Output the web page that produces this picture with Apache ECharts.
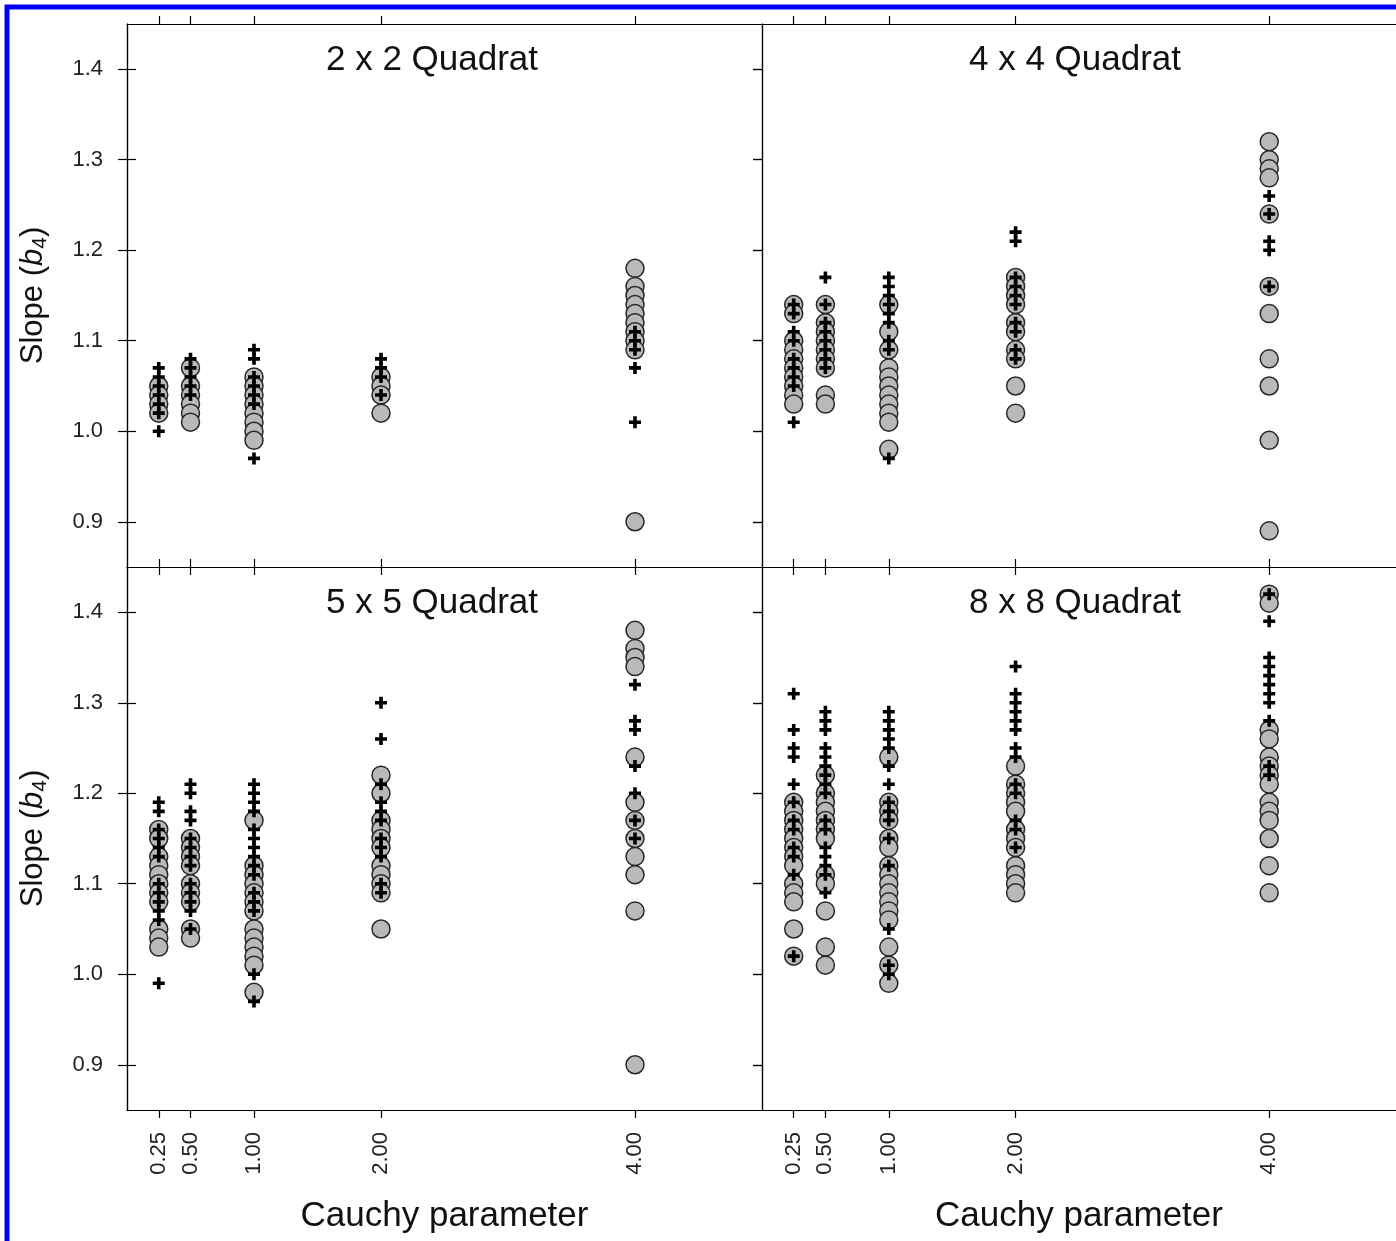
<!DOCTYPE html>
<html>
<head>
<meta charset="utf-8">
<script src="https://cdn.jsdelivr.net/npm/echarts@6/dist/echarts.min.js"></script>
<style>
html,body{margin:0;padding:0;background:#fff;}
#chart{width:1396px;height:1241px;}
</style>
</head>
<body>
<div id="chart"></div>
<script>
// ---- data ----
const cauchy = [0.25, 0.5, 1, 2, 4];
const yTicks = [0.9, 1.0, 1.1, 1.2, 1.3, 1.4];
const panelTitles = ['2 x 2 Quadrat', '4 x 4 Quadrat', '5 x 5 Quadrat', '8 x 8 Quadrat'];

// circles (one list per Cauchy parameter)
const q2Circles = [
  [1.05, 1.04, 1.03, 1.02],
  [1.07, 1.05, 1.04, 1.03, 1.02, 1.01],
  [1.06, 1.05, 1.04, 1.03, 1.02, 1.01, 1.00, 0.99],
  [1.06, 1.05, 1.04, 1.02],
  [1.18, 1.16, 1.15, 1.14, 1.13, 1.12, 1.11, 1.10, 1.09, 0.90]
];
const q2Plus = [
  [1.07, 1.06, 1.05, 1.04, 1.03, 1.02, 1.00],
  [1.08, 1.07, 1.06, 1.05, 1.04],
  [1.09, 1.08, 1.06, 1.05, 1.04, 1.03, 0.97],
  [1.08, 1.07, 1.06, 1.04],
  [1.11, 1.10, 1.09, 1.07, 1.01]
];
const q4Circles = [
  [1.14, 1.13, 1.10, 1.09, 1.08, 1.07, 1.06, 1.05, 1.04, 1.03],
  [1.14, 1.12, 1.11, 1.10, 1.09, 1.08, 1.07, 1.04, 1.03],
  [1.14, 1.11, 1.09, 1.07, 1.06, 1.05, 1.04, 1.03, 1.02, 1.01, 0.98],
  [1.17, 1.16, 1.15, 1.14, 1.12, 1.11, 1.09, 1.08, 1.05, 1.02],
  [1.32, 1.30, 1.29, 1.28, 1.24, 1.16, 1.13, 1.08, 1.05, 0.99, 0.89]
];
const q4Plus = [
  [1.14, 1.13, 1.11, 1.10, 1.08, 1.07, 1.06, 1.05, 1.01],
  [1.17, 1.14, 1.12, 1.11, 1.10, 1.09, 1.08, 1.07],
  [1.17, 1.16, 1.15, 1.14, 1.13, 1.12, 1.10, 1.09, 0.97],
  [1.22, 1.21, 1.17, 1.16, 1.15, 1.14, 1.12, 1.11, 1.09, 1.08],
  [1.26, 1.24, 1.21, 1.20, 1.16]
];
const q5Circles = [
  [1.16, 1.15, 1.13, 1.12, 1.11, 1.10, 1.09, 1.08, 1.05, 1.04, 1.03],
  [1.15, 1.14, 1.13, 1.12, 1.10, 1.09, 1.08, 1.05, 1.04],
  [1.17, 1.12, 1.11, 1.10, 1.09, 1.08, 1.07, 1.05, 1.04, 1.03, 1.02, 1.01, 0.98],
  [1.22, 1.20, 1.17, 1.16, 1.15, 1.14, 1.12, 1.11, 1.10, 1.09, 1.05],
  [1.38, 1.36, 1.35, 1.34, 1.24, 1.19, 1.17, 1.15, 1.13, 1.11, 1.07, 0.90]
];
const q5Plus = [
  [1.19, 1.18, 1.16, 1.15, 1.14, 1.13, 1.10, 1.09, 1.08, 1.07, 1.06, 0.99],
  [1.21, 1.20, 1.18, 1.17, 1.15, 1.14, 1.13, 1.12, 1.10, 1.09, 1.08, 1.07, 1.05],
  [1.21, 1.20, 1.19, 1.18, 1.16, 1.15, 1.14, 1.13, 1.12, 1.11, 1.09, 1.08, 1.07, 1.00, 0.97],
  [1.30, 1.26, 1.21, 1.19, 1.18, 1.17, 1.15, 1.14, 1.13, 1.10, 1.09],
  [1.32, 1.28, 1.27, 1.23, 1.20, 1.17, 1.15]
];
const q8Circles = [
  [1.19, 1.18, 1.17, 1.16, 1.15, 1.14, 1.13, 1.12, 1.10, 1.09, 1.08, 1.05, 1.02],
  [1.22, 1.20, 1.19, 1.18, 1.17, 1.16, 1.15, 1.11, 1.10, 1.07, 1.03, 1.01],
  [1.24, 1.19, 1.18, 1.17, 1.15, 1.14, 1.12, 1.11, 1.10, 1.09, 1.08, 1.07, 1.06, 1.03, 1.01, 0.99],
  [1.23, 1.21, 1.20, 1.19, 1.18, 1.16, 1.15, 1.14, 1.12, 1.11, 1.10, 1.09],
  [1.42, 1.41, 1.27, 1.26, 1.24, 1.23, 1.22, 1.21, 1.19, 1.18, 1.17, 1.15, 1.12, 1.09]
];
const q8Plus = [
  [1.31, 1.27, 1.25, 1.24, 1.21, 1.19, 1.17, 1.16, 1.14, 1.13, 1.11, 1.02],
  [1.29, 1.28, 1.27, 1.25, 1.24, 1.23, 1.22, 1.21, 1.20, 1.17, 1.16, 1.14, 1.13, 1.12, 1.11, 1.09],
  [1.29, 1.28, 1.27, 1.26, 1.25, 1.23, 1.21, 1.19, 1.18, 1.17, 1.15, 1.12, 1.05, 1.01, 1.00],
  [1.34, 1.31, 1.30, 1.29, 1.28, 1.27, 1.25, 1.24, 1.21, 1.20, 1.17, 1.16, 1.14],
  [1.42, 1.39, 1.35, 1.34, 1.33, 1.32, 1.31, 1.30, 1.28, 1.23, 1.22]
];

const circleSets = [q2Circles, q4Circles, q5Circles, q8Circles];
const plusSets = [q2Plus, q4Plus, q5Plus, q8Plus];

// ---- chart ----
const FONT = 'Liberation Sans, Arial, sans-serif';
const toPairs = lists => cauchy.flatMap((c, i) => lists[i].map(v => [c, v]));
const PLUS = 'path://M4.2,0h3.6v4.2h4.2v3.6h-4.2v4.2h-3.6v-4.2h-4.2v-3.6h4.2z';

const grids = [
  {left: 127, top: 24, width: 635, height: 543},
  {left: 762, top: 24, width: 635, height: 543},
  {left: 127, top: 567, width: 635, height: 543},
  {left: 762, top: 567, width: 635, height: 543}
];

const axLine = {show: true, lineStyle: {color: '#000', width: 1.2}};
const xAxes = [], yAxes = [], series = [];
grids.forEach((g, i) => {
  const isBottom = i >= 2, isLeft = i % 2 === 0;
  xAxes.push({
    type: 'value', gridIndex: i, position: 'bottom', min: 0, max: 5,
    axisLine: axLine, splitLine: {show: false},
    axisTick: {show: true, inside: false, length: 8, customValues: cauchy, lineStyle: {color: '#000', width: 1.2}},
    axisLabel: {show: isBottom, customValues: cauchy, rotate: 90, margin: 22,
      formatter: v => v.toFixed(2), fontSize: 22, color: '#222', fontFamily: FONT},
    name: isBottom ? 'Cauchy parameter' : '', nameLocation: 'middle', nameGap: 89,
    nameTextStyle: {fontSize: 35, color: '#111', fontFamily: FONT}
  });
  xAxes.push({
    type: 'value', gridIndex: i, position: 'top', min: 0, max: 5,
    axisLine: axLine, splitLine: {show: false},
    axisTick: {show: true, inside: false, length: 8, customValues: cauchy, lineStyle: {color: '#000', width: 1.2}},
    axisLabel: {show: false}
  });
  yAxes.push({
    type: 'value', gridIndex: i, position: 'left', min: 0.85, max: 1.45,
    axisLine: axLine, splitLine: {show: false},
    axisTick: {show: true, inside: false, length: 9, customValues: yTicks, lineStyle: {color: '#000', width: 1.2}},
    axisLabel: {show: isLeft, customValues: yTicks, margin: 24, formatter: v => v.toFixed(1),
      fontSize: 22, color: '#222', fontFamily: FONT},
    name: isLeft ? '{a|Slope (}{b|b}{c|4}{a|)}' : '', nameLocation: 'middle', nameRotate: 90, nameGap: 76,
    nameTextStyle: {fontSize: 31, color: '#111', fontFamily: FONT,
      rich: {
        a: {fontSize: 31, fontFamily: FONT, color: '#111'},
        b: {fontSize: 31, fontStyle: 'italic', fontFamily: FONT, color: '#111'},
        c: {fontSize: 21, fontFamily: FONT, color: '#111', verticalAlign: 'bottom', padding: [14, 0, 0, 0]}
      }}
  });
  yAxes.push({
    type: 'value', gridIndex: i, position: 'right', min: 0.85, max: 1.45,
    axisLine: axLine, splitLine: {show: false},
    axisTick: {show: true, inside: !isLeft, length: 9, customValues: yTicks, lineStyle: {color: '#000', width: 1.2}},
    axisLabel: {show: false}
  });

  series.push({
    type: 'scatter', xAxisIndex: i * 2, yAxisIndex: i * 2, z: 2,
    data: toPairs(circleSets[i]), symbol: 'circle', symbolSize: 18,
    itemStyle: {color: '#b9b9b9', borderColor: '#262626', borderWidth: 1.5, opacity: 1},
    emphasis: {disabled: true}, silent: true
  });
  series.push({
    type: 'scatter', xAxisIndex: i * 2, yAxisIndex: i * 2, z: 3,
    data: toPairs(plusSets[i]), symbol: PLUS, symbolSize: 12,
    itemStyle: {color: '#000', opacity: 1},
    emphasis: {disabled: true}, silent: true
  });
});

const titlePos = [[432, 60], [1075, 60], [432, 603], [1075, 603]];
const graphics = titlePos.map((p, i) => ({
  type: 'text', x: p[0], y: p[1], z: 10,
  style: {text: panelTitles[i], fontSize: 35, fontFamily: FONT, fill: '#111',
    textAlign: 'center', textVerticalAlign: 'middle'}
}));
graphics.push({
  type: 'rect', z: 20, silent: true,
  shape: {x: 7, y: 7, width: 1440, height: 1300},
  style: {fill: 'none', stroke: '#0000ff', lineWidth: 5}
});

const chart = echarts.init(document.getElementById('chart'), null, {renderer: 'canvas'});
chart.setOption({
  animation: false,
  backgroundColor: '#fff',
  grid: grids,
  xAxis: xAxes,
  yAxis: yAxes,
  series: series,
  graphic: graphics
});
</script>
</body>
</html>
